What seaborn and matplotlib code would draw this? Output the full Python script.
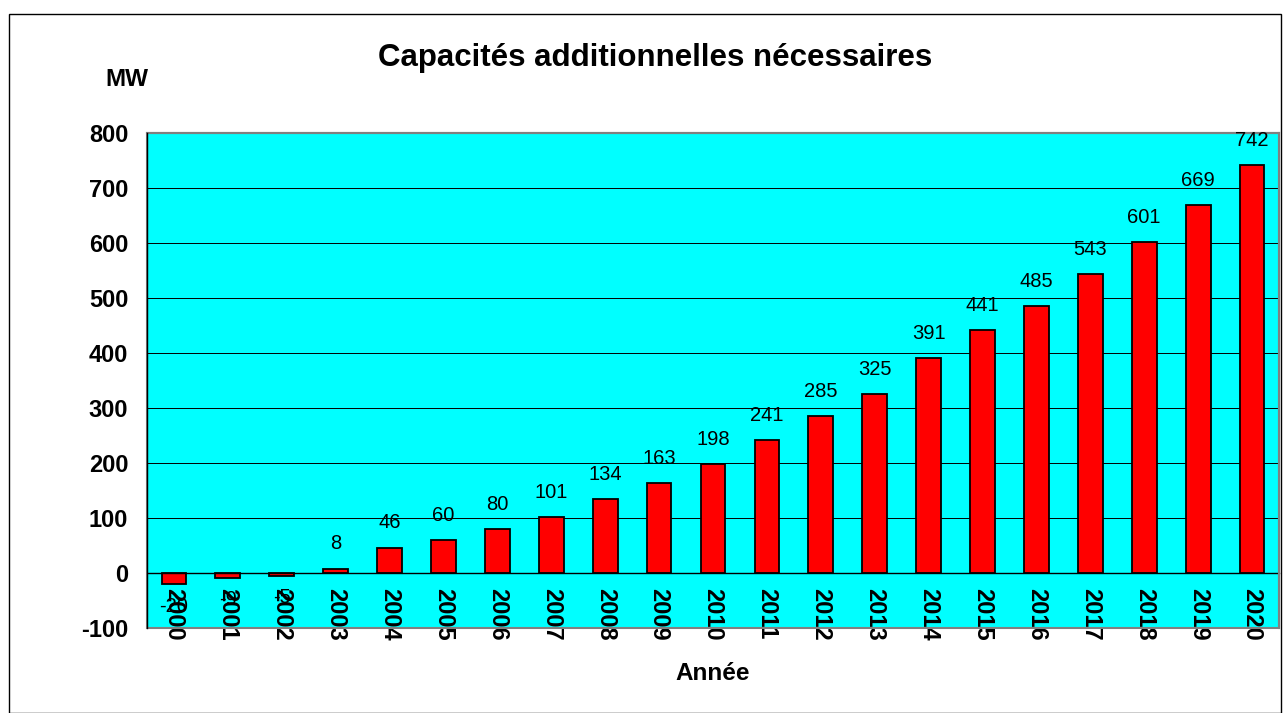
import matplotlib
matplotlib.use("Agg")
import matplotlib.pyplot as plt
from matplotlib.patches import Rectangle
import seaborn as sns
import pandas as pd
import numpy as np

years = [str(y) for y in range(2000, 2021)]
values = [-20, -9, -5, 8, 46, 60, 80, 101, 134, 163, 198, 241, 285, 325, 391, 441, 485, 543, 601, 669, 742]
yticks = [-100, 0, 100, 200, 300, 400, 500, 600, 700, 800]

title = "Capacités additionnelles nécessaires"
ylabel = "MW"
xlabel = "Année"

sns.set_theme(style="white")
plt.rcParams['font.family'] = ['Liberation Sans', 'DejaVu Sans']
plt.rcParams['axes.unicode_minus'] = False
plt.rcParams['text.color'] = 'black'
plt.rcParams['xtick.color'] = 'black'
plt.rcParams['ytick.color'] = 'black'

W, H = 1288, 713
fig = plt.figure(figsize=(W / 100, H / 100), dpi=100)
fig.patch.set_facecolor("white")

left, right, top, bottom = 147, 1279, 133, 628
ax = fig.add_axes([left / W, 1 - bottom / H, (right - left) / W, (bottom - top) / H])

df = pd.DataFrame({"year": years, "value": values})
sns.barplot(data=df, x="year", y="value", color="red", edgecolor="black",
            linewidth=1.3, width=0.46, saturation=1, ax=ax, zorder=3)

ax.set_facecolor("#00FFFF")
ax.set_xlim(-0.5, len(years) - 0.5)
ax.set_ylim(-100, 800)
ax.set_yticks(yticks)
ax.yaxis.grid(True, color="black", linewidth=0.7, zorder=0)
ax.set_axisbelow(True)

# Frame
for s in ["top", "right"]:
    ax.spines[s].set_color("#808080")
    ax.spines[s].set_linewidth(1.5)
ax.spines["left"].set_color("black")
ax.spines["left"].set_linewidth(1.0)
ax.spines["bottom"].set_position(("data", 0))
ax.spines["bottom"].set_color("black")
ax.spines["bottom"].set_linewidth(1.0)
ax.spines["bottom"].set_zorder(4)
ax.add_patch(Rectangle((0, 0), 1, 1, transform=ax.transAxes, fill=False,
                       edgecolor="#808080", linewidth=1.5, zorder=5, clip_on=False))
ax.spines["left"].set_zorder(6)

# ticks
ax.set_xticks(range(len(years)))
ax.set_xticklabels(years, rotation=270, fontsize=17, fontweight="bold", va="top", ha="center",
                   color="black")
ax.set_xticks(np.arange(len(years)) + 0.5, minor=True)
ax.tick_params(axis="x", which="major", length=0, pad=11)
ax.tick_params(axis="x", which="minor", length=5, direction="out", color="black", width=1)
ax.tick_params(axis="y", which="major", length=5, direction="out", color="black", width=1,
               labelsize=17, pad=8.5)
for lab in ax.get_yticklabels():
    lab.set_fontweight("bold")
    lab.set_color("black")

ax.set_xlabel("")
ax.set_ylabel("")

# data labels
for i, v in enumerate(values):
    if v >= 0:
        ax.annotate(str(v), (i, v), xytext=(0, 11), textcoords="offset points",
                    ha="center", va="bottom", fontsize=14.5, color="black", zorder=7)
    else:
        ax.annotate(str(v), (i, v), xytext=(0, -9), textcoords="offset points",
                    ha="center", va="top", fontsize=14.5, color="black", zorder=7)

fig.text(655 / W, 1 - 58 / H, title, ha="center", va="center", fontsize=22.5,
         fontweight="bold", color="black")
fig.text(127 / W, 1 - 80 / H, ylabel, ha="center", va="center", fontsize=17.5,
         fontweight="bold", color="black")
fig.text(713 / W, 1 - 674 / H, xlabel, ha="center", va="center", fontsize=17.5,
         fontweight="bold", color="black")

# outer frame
fig.patches.append(Rectangle((9 / W, 0), (1281 - 9) / W, 1 - 14 / H, transform=fig.transFigure,
                             fill=False, edgecolor="black", linewidth=1.0))

fig.savefig("out.png", dpi=100)
